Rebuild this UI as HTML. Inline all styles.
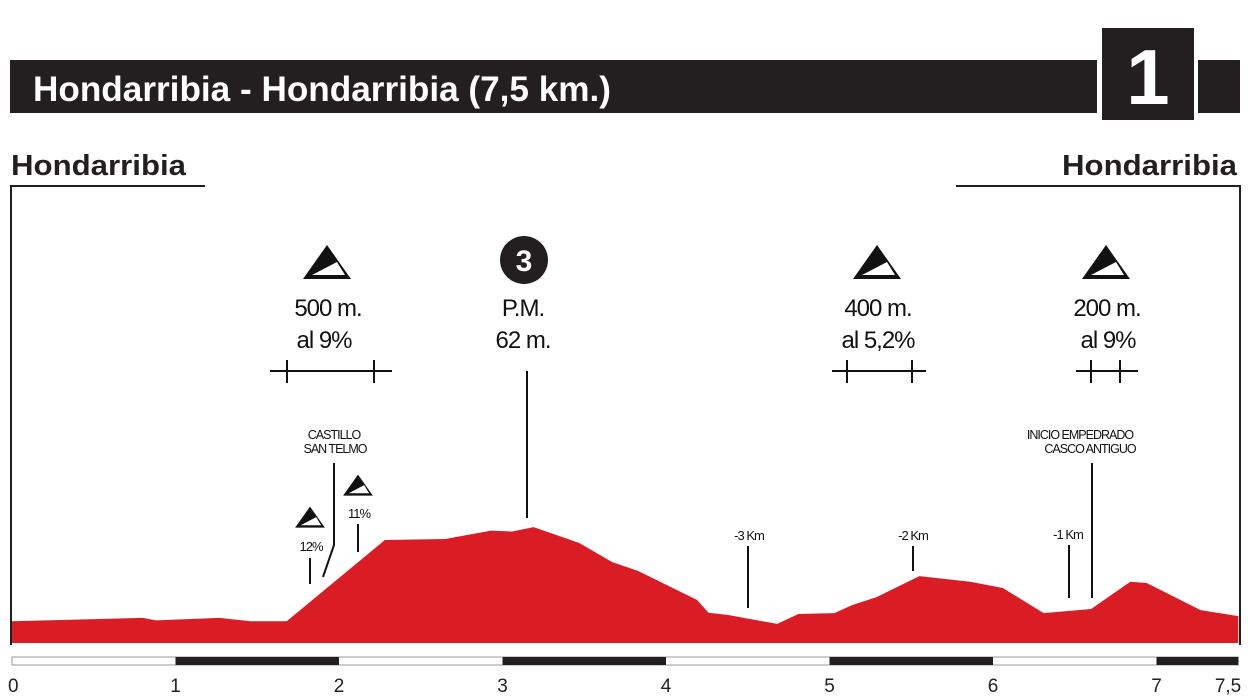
<!DOCTYPE html>
<html><head><meta charset="utf-8"><style>
html,body{margin:0;padding:0;background:#fff;}
svg{display:block;font-family:"Liberation Sans",sans-serif;}
</style></head><body>
<svg id="chart" width="1248" height="700" viewBox="0 0 1248 700">
<defs>
<g id="climb">
<polygon points="0,-20 -24,14 24,14" fill="#111"/>
<polygon points="-15,10 10,-3 18,10" fill="#fff"/>
</g>
</defs>
<rect x="10" y="60" width="1087" height="53" fill="#231f20"/>
<text x="33" y="101" font-size="35" font-weight="bold" fill="#fff" textLength="578" lengthAdjust="spacingAndGlyphs">Hondarribia - Hondarribia (7,5 km.)</text>
<rect x="1102" y="28" width="92" height="92" fill="#231f20"/>
<text x="1148" y="104" font-size="78" font-weight="bold" fill="#fff" text-anchor="middle">1</text>
<rect x="1198" y="60" width="42" height="53" fill="#231f20"/>
<text x="11" y="175" font-size="29" font-weight="bold" fill="#231f20" textLength="175" lengthAdjust="spacingAndGlyphs">Hondarribia</text>
<text x="1237" y="175" font-size="29" font-weight="bold" fill="#231f20" text-anchor="end" textLength="175" lengthAdjust="spacingAndGlyphs">Hondarribia</text>
<polyline points="205,186 11,186 11,645" fill="none" stroke="#231f20" stroke-width="2"/>
<polyline points="956,186 1240,186 1240,645" fill="none" stroke="#231f20" stroke-width="2"/>
<g id="marks"></g>
</svg>
<script>
const kms = [0,0.80,0.88,1.27,1.46,1.68,2.28,2.65,2.93,3.06,3.19,3.47,3.67,3.83,4.19,4.26,4.38,4.68,4.81,5.03,5.14,5.29,5.55,5.86,6.06,6.31,6.60,6.84,6.94,7.27,7.5];
const elevations = [11.6,13.4,12.1,13.4,11.6,11.6,55.1,55.6,60.1,59.6,62,53.5,43.3,38.5,23,16.2,15,10.2,15.5,16,20.3,24.6,35.8,32.8,29.4,16,18.2,32.8,32.1,17.6,14.4];
const tickLabels = ["0","1","2","3","4","5","6","7","7,5"];
const tickKms = [0,1,2,3,4,5,6,7,7.5];
const X0=12, PXKM=163.5, BASE=643, PXM=1.87;
const sx = k => X0 + k*PXKM;
const sy = e => BASE - e*PXM;
const NS="http://www.w3.org/2000/svg";
const g=document.getElementById('marks');
function mk(tag, attrs, txt){const e=document.createElementNS(NS,tag);for(const a in attrs)e.setAttribute(a,attrs[a]);if(txt!==undefined)e.textContent=txt;g.appendChild(e);return e;}
let d=`M${sx(0)},${BASE} `;
kms.forEach((k,i)=>{d+=`L${sx(k).toFixed(1)},${sy(elevations[i]).toFixed(1)} `;});
d+=`L${sx(7.5)},${BASE} Z`;
const area=mk('path',{d:d,fill:'#da1c24'});


const bar=mk('rect',{x:sx(0),y:657,width:sx(7.5)-sx(0),height:8,fill:'#fff',stroke:'#999','stroke-width':1});


[1,3,5,7].forEach(k=>{const e=mk('rect',{x:sx(k),y:657,width:Math.min(1,7.5-k)*PXKM,height:8,fill:'#231f20'});

});
tickKms.forEach((k,i)=>{const t=mk('text',{x:sx(k),y:692,'font-size':19,fill:'#231f20','text-anchor':i==0?'start':(i==tickKms.length-1?'end':'middle')},tickLabels[i]);
if(i==0)t.setAttribute('x',sx(k)-4);
if(i==tickKms.length-1)t.setAttribute('x',sx(k)+3);

});
function line(x1,y1,x2,y2,name){const l=mk('line',{x1,y1,x2,y2,stroke:'#111','stroke-width':2});

}
function txt(x,y,s,size,name){const t=mk('text',{x,y,'font-size':size,fill:'#111','text-anchor':'middle','letter-spacing':-1},s);

}
function climb(x,y,sc,name){const u=mk('use',{href:'#climb',transform:`translate(${x},${y}) scale(${sc})`});

}
climb(327,265,1,'climb-icon-1');txt(328,316,'500 m.',24,'climb-1-length');txt(324,348,'al 9%',24,'climb-1-grade');
line(270,371,392,371,'climb-1-span');line(287,360,287,383,'climb-1-start');line(374,360,374,383,'climb-1-end');
climb(877,265,1,'climb-icon-2');txt(878,316,'400 m.',24,'climb-2-length');txt(878,348,'al 5,2%',24,'climb-2-grade');
line(832,371,926,371,'climb-2-span');line(847,360,847,383,'climb-2-start');line(912,360,912,383,'climb-2-end');
climb(1106,265,1,'climb-icon-3');txt(1107,316,'200 m.',24,'climb-3-length');txt(1108,348,'al 9%',24,'climb-3-grade');
line(1076,371,1138,371,'climb-3-span');line(1091,360,1091,383,'climb-3-start');line(1120,360,1120,383,'climb-3-end');
const c=mk('circle',{cx:524,cy:260,r:24,fill:'#231f20'});


const ct=mk('text',{x:524,y:271,'font-size':30,'font-weight':'bold',fill:'#fff','text-anchor':'middle'},'3');


txt(523,316,'P.M.',24,'mountain-point-label');txt(523,348,'62 m.',24,'mountain-point-altitude');
line(527,371,527,518,'mountain-point-leader');
climb(310,519,0.62,'ramp-icon-12');txt(311,551,'12%',13,'ramp-12-label');line(310,558,310,584,'ramp-12-leader');
climb(358,487,0.62,'ramp-icon-11');txt(359,518,'11%',13,'ramp-11-label');line(358,524,358,552,'ramp-11-leader');
txt(334,439,'CASTILLO',12.5,'castillo-label-1');txt(335,453,'SAN TELMO',12.5,'castillo-label-2');
const pl=mk('polyline',{points:'334,463 334,545 323,577',fill:'none',stroke:'#111','stroke-width':2});


txt(1080,439,'INICIO EMPEDRADO',12.5,'empedrado-label-1');txt(1090,453,'CASCO ANTIGUO',12.5,'empedrado-label-2');
line(1092,463,1092,598,'empedrado-leader');
txt(749,540,'-3 Km',13,'km-3-label');line(748,546,748,608,'km-3-leader');
txt(913,540,'-2 Km',13,'km-2-label');line(913,546,913,571,'km-2-leader');
txt(1068,539,'-1 Km',13,'km-1-label');line(1069,545,1069,598,'km-1-leader');
</script>
</body></html>
